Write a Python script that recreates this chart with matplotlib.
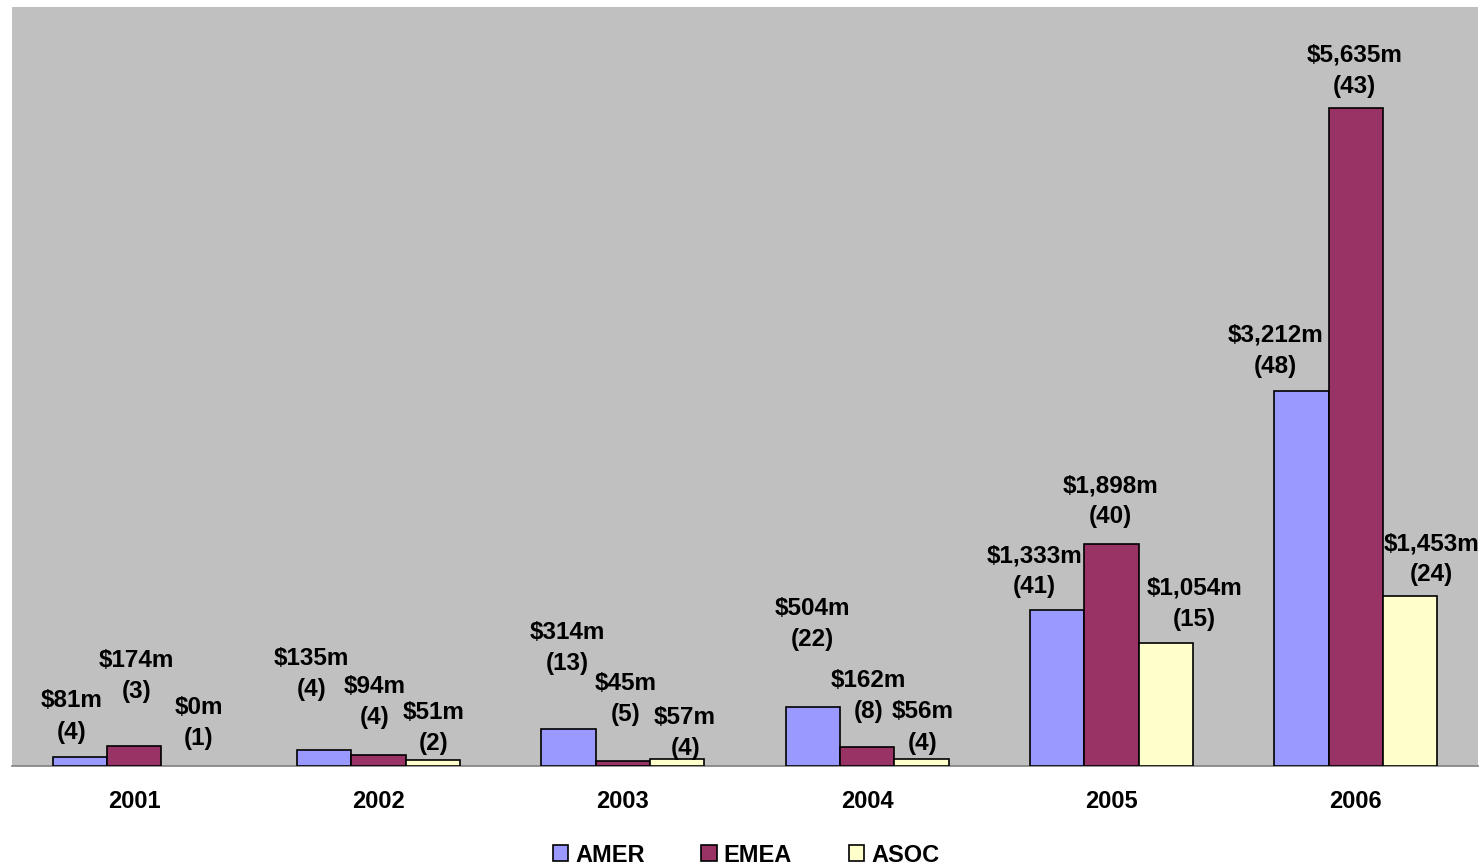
import numpy as np
import matplotlib.pyplot as plt
from matplotlib.patches import Patch

plt.rcParams['font.family'] = ['Liberation Sans', 'DejaVu Sans']
plt.rcParams['font.weight'] = 'bold'

# Deal values ($m) and deal counts per region
anos = ['2001', '2002', '2003', '2004', '2005', '2006']
regioes = ['AMER', 'EMEA', 'ASOC']
cores = ['#9999FF', '#993366', '#FFFFCC']

valor_amer = [81, 135, 314, 504, 1333, 3212]
valor_emea = [174, 94, 45, 162, 1898, 5635]
valor_asoc = [0, 51, 57, 56, 1054, 1453]

qtd_amer = [4, 4, 13, 22, 41, 48]
qtd_emea = [3, 4, 5, 8, 40, 43]
qtd_asoc = [1, 2, 4, 4, 15, 24]

# Label offsets (pixels) from the top centre of each bar: (dx, dy)
desloc_amer = [(-8, 40), (-13, 76), (-1, 81), (0, 83), (-23, 39), (-26, 40)]
desloc_emea = [(2, 70), (-4, 53), (3, 62), (1, 51), (-1, 43), (-1, 37)]
desloc_asoc = [(10, 43), (1, 32), (8, 26), (1, 32), (29, 39), (21, 37)]

valores = [valor_amer, valor_emea, valor_asoc]
quantidades = [qtd_amer, qtd_emea, qtd_asoc]
deslocamentos = [desloc_amer, desloc_emea, desloc_asoc]

fig = plt.figure(figsize=(14.84, 8.67), dpi=100)
ax = fig.add_axes([12 / 1484, 101 / 867, 1466 / 1484, 759 / 867])
ax.set_facecolor('#C0C0C0')

x = np.arange(len(anos))
largura = 1 / 4.5

for i, (regiao, cor) in enumerate(zip(regioes, cores)):
    pos = x + (i - 1) * largura
    barras = ax.bar(pos, valores[i], width=largura, color=cor, edgecolor='black',
                    linewidth=1.2, zorder=3)
    # zero-value bars are not drawn at all
    for b, v in zip(barras, valores[i]):
        if v == 0:
            b.set_visible(False)
    for xp, v, q, (dx, dy) in zip(pos, valores[i], quantidades[i], deslocamentos[i]):
        ax.annotate(f"${v:,}m\n({q})", xy=(xp, v), xytext=(dx, dy),
                    textcoords='offset pixels', ha='center', va='center',
                    fontsize=17.5, fontweight='bold', linespacing=1.45)

ax.set_xlim(-0.5, len(anos) - 0.5)
ax.set_ylim(0, 6500)
ax.set_yticks([])
ax.set_xticks(x)
ax.set_xticklabels(anos, fontsize=17, fontweight='bold')
ax.tick_params(axis='x', length=0, pad=17)
for lado in ['top', 'left', 'right']:
    ax.spines[lado].set_visible(False)
ax.spines['bottom'].set_color('#808080')
ax.spines['bottom'].set_linewidth(1.2)

legenda = [Patch(facecolor=c, edgecolor='black', linewidth=1.2, label=r)
           for r, c in zip(regioes, cores)]
fig.legend(handles=legenda, loc='center', bbox_to_anchor=(746 / 1484, 1 - 855 / 867),
           ncol=3, frameon=False, fontsize=17, handlelength=0.65, handleheight=0.65,
           handletextpad=0.3, columnspacing=2.4, borderaxespad=0)

fig.savefig('out.png', dpi=100, facecolor='white')
